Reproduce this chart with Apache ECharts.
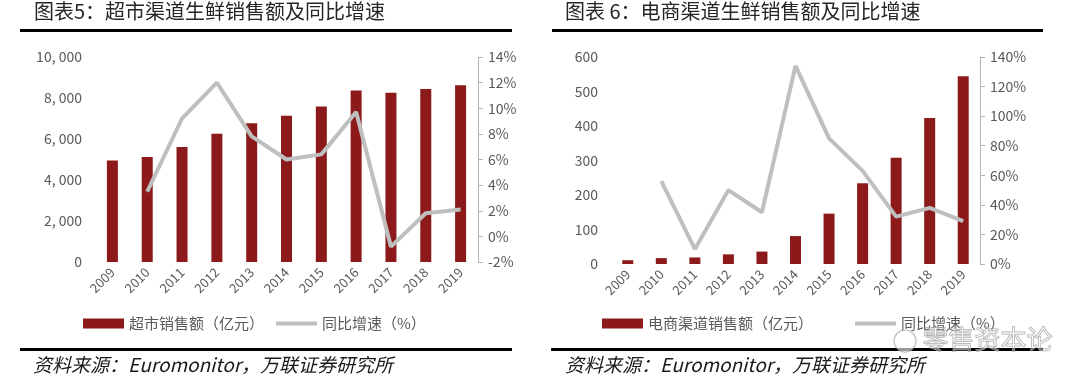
<!DOCTYPE html>
<html><head><meta charset="utf-8">
<script src="https://cdn.jsdelivr.net/npm/echarts@6/dist/echarts.min.js"></script>
<style>html,body{margin:0;padding:0;background:#fff}#c{width:1080px;height:386px}</style>
</head><body><div id="c"></div>
<script>
const years = ['2009','2010','2011','2012','2013','2014','2015','2016','2017','2018','2019'];
const supermarketSales = [4950, 5120, 5610, 6260, 6770, 7140, 7590, 8360, 8260, 8440, 8620];
const supermarketGrowth = [null, 3.5, 9.2, 12.0, 7.8, 6.0, 6.4, 9.7, -0.8, 1.8, 2.1];
const ecomSales = [11, 17, 19, 28, 36, 81, 146, 234, 308, 423, 544];
const ecomGrowth = [null, 56, 10, 50, 35, 134, 85, 63, 32, 38, 29];
const titleLeft = '图表5：超市渠道生鲜销售额及同比增速';
const titleRight = '图表 6：电商渠道生鲜销售额及同比增速';
const sourceText = '资料来源：Euromonitor，万联证券研究所';
const barNameLeft = '超市销售额（亿元）';
const barNameRight = '电商渠道销售额（亿元）';
const lineName = '同比增速（%）';
const watermark = '零售资本论';

const FONT = '"Noto Sans CJK SC", "Noto Sans", sans-serif';
const RED = '#8c1a1a';
const GRAY = '#bfbfbf';
const LABEL = '#595959';
const LINE_ICON = 'path://M0,0 L40,0 L40,4 L0,4 Z';

const chart = echarts.init(document.getElementById('c'), null, {renderer: 'canvas'});

function xAx(gi) {
  return {
    type: 'category', gridIndex: gi, data: years,
    axisLine: {show: false}, axisTick: {show: false},
    axisLabel: {rotate: 45, margin: 8, color: LABEL, fontSize: 13, fontFamily: FONT}
  };
}
function yLeft(gi, max, interval, fmt) {
  return {
    type: 'value', gridIndex: gi, min: 0, max: max, interval: interval, position: 'left',
    axisLine: {show: false}, axisTick: {show: false}, splitLine: {show: false},
    axisLabel: {margin: 13, color: LABEL, fontSize: 14, fontFamily: FONT, formatter: fmt}
  };
}
function yRight(gi, min, max, interval) {
  return {
    type: 'value', gridIndex: gi, min: min, max: max, interval: interval, position: 'right',
    axisLine: {show: true, lineStyle: {color: '#b3b3b3', width: 1}},
    axisTick: {show: true, length: 5, lineStyle: {color: '#b3b3b3'}},
    splitLine: {show: false},
    axisLabel: {margin: 10, color: LABEL, fontSize: 14, fontFamily: FONT, formatter: '{value}%'}
  };
}

const option = {
  backgroundColor: '#fff',
  animation: false,
  textStyle: {fontFamily: FONT},
  grid: [
    {left: 95, top: 57, width: 383, height: 205},
    {left: 611, top: 57, width: 369, height: 207}
  ],
  xAxis: [xAx(0), xAx(1)],
  yAxis: [
    yLeft(0, 10000, 2000, v => v.toLocaleString('en-US').replace(',', ', ')),
    yRight(0, -2, 14, 2),
    yLeft(1, 600, 100, '{value}'),
    yRight(1, 0, 140, 20)
  ],
  legend: [
    {left: 78, top: 311, itemWidth: 41, itemHeight: 10, itemGap: 12,
     textStyle: {color: LABEL, fontSize: 15, fontFamily: FONT},
     data: [{name: barNameLeft, icon: 'rect'},
            {name: lineName, icon: LINE_ICON, itemStyle: {color: GRAY}}]},
    {left: 597, top: 311, itemWidth: 41, itemHeight: 10, itemGap: 42,
     textStyle: {color: LABEL, fontSize: 15, fontFamily: FONT},
     data: [{name: barNameRight, icon: 'rect'},
            {name: lineName, icon: LINE_ICON, itemStyle: {color: GRAY}}]}
  ],
  series: [
    {name: barNameLeft, type: 'bar', xAxisIndex: 0, yAxisIndex: 0, data: supermarketSales,
     barWidth: 11, itemStyle: {color: RED}},
    {name: lineName, type: 'line', xAxisIndex: 0, yAxisIndex: 1, data: supermarketGrowth,
     symbol: 'none', lineStyle: {color: GRAY, width: 4}, itemStyle: {color: GRAY}, z: 3},
    {name: barNameRight, type: 'bar', xAxisIndex: 1, yAxisIndex: 2, data: ecomSales,
     barWidth: 11, itemStyle: {color: RED}},
    {name: lineName, type: 'line', xAxisIndex: 1, yAxisIndex: 3, data: ecomGrowth,
     symbol: 'none', lineStyle: {color: GRAY, width: 4}, itemStyle: {color: GRAY}, z: 3}
  ],
  graphic: [
    {type: 'text', left: 34, top: 1, style: {text: titleLeft, fill: '#262626', font: '20px ' + FONT}},
    {type: 'text', left: 565, top: 1, style: {text: titleRight, fill: '#262626', font: '20px ' + FONT}},
    {type: 'rect', shape: {x: 20, y: 29, width: 492, height: 3}, style: {fill: '#000'}},
    {type: 'rect', shape: {x: 552, y: 29, width: 491, height: 3}, style: {fill: '#000'}},
    {type: 'rect', shape: {x: 20, y: 348, width: 492, height: 3}, style: {fill: '#000'}},
    {type: 'rect', shape: {x: 551, y: 348, width: 492, height: 3}, style: {fill: '#000'}},
    {type: 'text', left: 33, top: 355, style: {text: sourceText, fill: '#1a1a1a', font: 'italic 19px ' + FONT}},
    {type: 'text', left: 565, top: 355, style: {text: sourceText, fill: '#1a1a1a', font: 'italic 19px ' + FONT}},
    {type: 'circle', shape: {cx: 905, cy: 341, r: 11}, style: {fill: 'rgba(255,255,255,0.6)', stroke: 'rgba(150,150,150,0.6)', lineWidth: 1.2}, z: 10},
    {type: 'text', left: 922, top: 326, z: 10, style: {text: watermark, fill: 'rgba(255,255,255,0.4)', stroke: 'rgba(140,140,140,0.7)', lineWidth: 1, font: '26px ' + FONT}}
  ]
};
chart.setOption(option);
</script></body></html>
